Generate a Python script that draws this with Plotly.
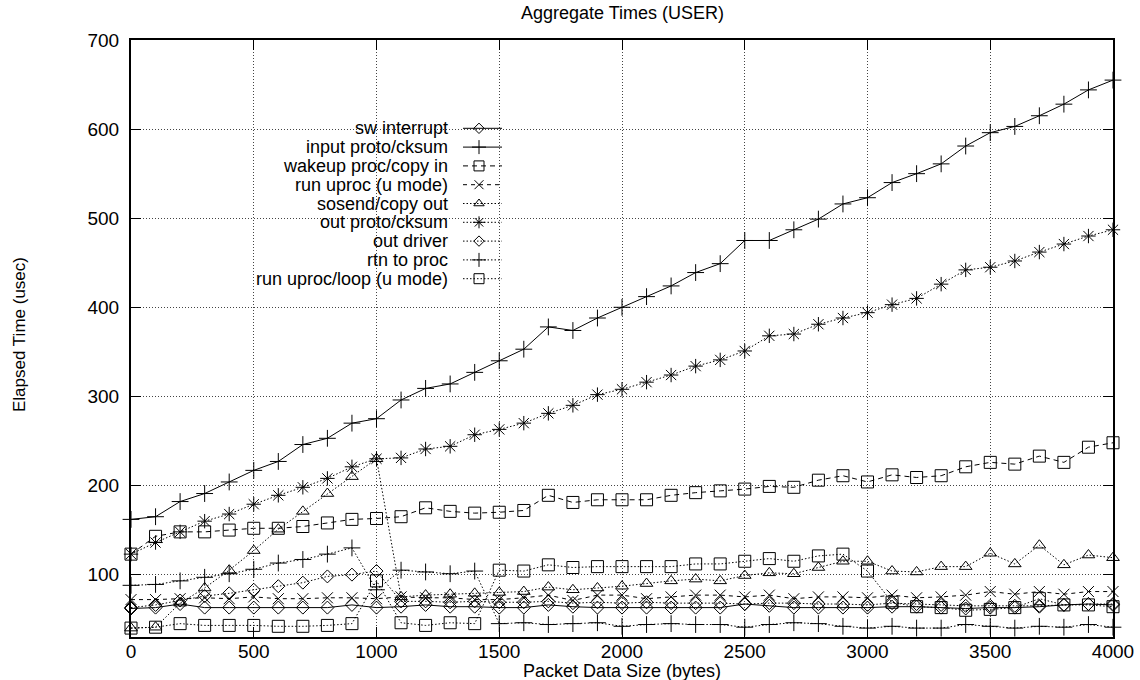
import plotly.graph_objects as go

# ---------------- data ----------------
packet_size = [0, 100, 200, 300, 400, 500, 600, 700, 800, 900, 1000,
               1100, 1200, 1300, 1400, 1500, 1600, 1700, 1800, 1900, 2000,
               2100, 2200, 2300, 2400, 2500, 2600, 2700, 2800, 2900, 3000,
               3100, 3200, 3300, 3400, 3500, 3600, 3700, 3800, 3900, 4000]

sw_interrupt = [62, 63, 67, 63, 63, 63, 63, 63, 63, 66, 63,
                64, 66, 64, 64, 63, 63, 66, 64, 63, 63,
                63, 63, 63, 63, 67, 65, 63, 63, 63, 63,
                64, 64, 63, 62, 63, 63, 64, 66, 67, 66]

input_proto = [162, 165, 182, 191, 204, 217, 227, 246, 253, 270, 275,
               296, 309, 314, 327, 340, 353, 378, 374, 388, 400,
               412, 424, 439, 449, 475, 475, 487, 499, 516, 523,
               540, 550, 561, 581, 596, 603, 615, 628, 644, 655]

wakeup_proc = [123, 143, 148, 148, 150, 152, 152, 154, 158, 162, 163,
               165, 175, 171, 169, 170, 172, 189, 181, 184, 184,
               184, 189, 192, 194, 196, 199, 198, 206, 211, 204,
               212, 209, 211, 221, 226, 224, 233, 226, 243, 248]

run_uproc = [72, 72, 73, 74, 73, 75, 73, 73, 74, 74, 73,
             75, 74, 74, 72, 72, 74, 77, 71, 77, 77,
             73, 75, 77, 77, 75, 77, 73, 75, 75, 74,
             77, 74, 75, 77, 81, 78, 81, 78, 81, 81]

sosend = [40, 41, 68, 85, 105, 127, 151, 171, 191, 210, 230,
          75, 77, 78, 79, 80, 81, 86, 83, 85, 87,
          90, 93, 95, 93, 99, 102, 101, 108, 115, 115,
          104, 103, 109, 109, 124, 112, 133, 111, 122, 119]

out_proto = [123, 136, 148, 160, 168, 179, 189, 198, 208, 221, 230,
             231, 241, 244, 257, 263, 270, 281, 290, 302, 308,
             316, 324, 334, 341, 351, 368, 370, 381, 388, 394,
             403, 410, 426, 442, 445, 452, 462, 471, 480, 487]

out_driver = [63, 66, 71, 76, 79, 83, 87, 91, 98, 100, 104,
              70, 70, 69, 70, 69, 69, 70, 68, 69, 68,
              69, 68, 68, 68, 67, 68, 68, 67, 67, 66,
              68, 67, 66, 65, 65, 65, 65, 66, 67, 67]

rtn_proc = [88, 89, 93, 97, 101, 106, 113, 117, 123, 130, 83,
            105, 103, 101, 104, 45, 46, 44, 45, 46, 42,
            44, 45, 44, 44, 41, 44, 46, 45, 42, 40,
            42, 40, 40, 44, 42, 40, 42, 41, 44, 41]

uproc_loop = [40, 41, 45, 43, 43, 43, 42, 42, 43, 45, 93,
              46, 43, 46, 45, 105, 104, 111, 108, 109, 109,
              109, 109, 112, 112, 115, 118, 115, 121, 123, 104,
              69, 64, 63, 60, 61, 63, 73, 66, 66, 64]

series_names = ["sw interrupt", "input proto/cksum", "wakeup proc/copy in",
                "run uproc (u mode)", "sosend/copy out", "out proto/cksum",
                "out driver", "rtn to proc", "run uproc/loop (u mode)"]
series_values = [sw_interrupt, input_proto, wakeup_proc, run_uproc, sosend,
                 out_proto, out_driver, rtn_proc, uproc_loop]

x_ticks = [0, 500, 1000, 1500, 2000, 2500, 3000, 3500, 4000]
y_ticks = [100, 200, 300, 400, 500, 600, 700]

# ---------------- style ----------------
styles = [
    dict(dash="solid", symbol="diamond-open", size=10),
    dict(dash="solid", symbol="cross-thin-open", size=12),
    dict(dash="5px,4px", symbol="square-open", size=12),
    dict(dash="4px,4px", symbol="x-thin-open", size=11),
    dict(dash="1.5px,2px", symbol="triangle-up-open", size=11),
    dict(dash="1.5px,2px", symbol="asterisk-open", size=12),
    dict(dash="1.5px,2px", symbol="diamond-open", size=10),
    dict(dash="1.5px,2px", symbol="cross-thin-open", size=12),
    dict(dash="1.5px,2px", symbol="square-open", size=12),
]

FONT = "Liberation Sans, Arial, Helvetica, sans-serif"
FS = 19
KEY_FS = 18
W, H = 1140, 680
L, R, T, B = 131, 27, 40, 43
PW, PH = W - L - R, H - T - B


def px2paper_x(px):
    return (px - L) / PW


def px2paper_y(py):
    return (H - B - py) / PH


fig = go.Figure()

for name, vals, st in zip(series_names, series_values, styles):
    fig.add_trace(go.Scatter(
        x=packet_size, y=vals, name=name, mode="lines+markers",
        line=dict(color="black", width=1, dash=st["dash"]),
        marker=dict(symbol=st["symbol"], size=st["size"], color="black",
                    line=dict(color="black", width=1)),
        showlegend=False, cliponaxis=False,
    ))

# ---------------- manual key (text left of sample, like gnuplot) ----------------
key_text_right = 450
key_line_x0, key_line_x1, key_mark_x = 463, 502, 479
key_y0, key_dy = 128.3, 18.8
annotations = []
for i, (name, st) in enumerate(zip(series_names, styles)):
    py = key_y0 + i * key_dy
    yy = px2paper_y(py)
    fig.add_trace(go.Scatter(
        x=[px2paper_x(key_line_x0), px2paper_x(key_line_x1)], y=[yy, yy],
        mode="lines", line=dict(color="black", width=1, dash=st["dash"]),
        xaxis="x2", yaxis="y2", showlegend=False, hoverinfo="skip"))
    fig.add_trace(go.Scatter(
        x=[px2paper_x(key_mark_x)], y=[yy], mode="markers",
        marker=dict(symbol=st["symbol"], size=st["size"] - 2, color="black",
                    line=dict(color="black", width=1)),
        xaxis="x2", yaxis="y2", showlegend=False, hoverinfo="skip"))
    annotations.append(dict(
        text=name, xref="paper", yref="paper", x=px2paper_x(key_text_right),
        y=yy, xanchor="right", yanchor="middle", showarrow=False,
        font=dict(family=FONT, size=KEY_FS, color="black")))

annotations.append(dict(
    text="Packet Data Size (bytes)", xref="paper", yref="paper",
    x=px2paper_x(622), y=px2paper_y(671), xanchor="center", yanchor="middle",
    showarrow=False, font=dict(family=FONT, size=FS - 1, color="black")))
annotations.append(dict(
    text="Elapsed Time (usec)", xref="paper", yref="paper",
    x=px2paper_x(19), y=px2paper_y(335), xanchor="center", yanchor="middle",
    textangle=-90, showarrow=False,
    font=dict(family=FONT, size=FS - 2, color="black")))
annotations.append(dict(
    text="Aggregate Times (USER)", xref="paper", yref="paper",
    x=px2paper_x(622), y=px2paper_y(13), xanchor="center", yanchor="middle",
    showarrow=False, font=dict(family=FONT, size=FS - 1, color="black")))

axis_common = dict(
    showline=True, linecolor="black", linewidth=2, mirror="ticks",
    ticks="inside", ticklen=10, tickwidth=1, tickcolor="black",
    showgrid=True, gridcolor="#444444", gridwidth=1, griddash="1px,2px",
    zeroline=False, tickfont=dict(family=FONT, size=FS, color="black"),
)

fig.update_layout(
    width=W, height=H,
    margin=dict(l=L, r=R, t=T, b=B, autoexpand=False),
    paper_bgcolor="white", plot_bgcolor="white",
    showlegend=False,
    xaxis=dict(range=[0, 4000], tickvals=x_ticks, ticktext=[str(v) for v in x_ticks],
               ticklabelstandoff=-4, **axis_common),
    yaxis=dict(range=[30, 700], tickvals=y_ticks, ticktext=[str(v) for v in y_ticks],
               ticklabelstandoff=6, **axis_common),
    xaxis2=dict(overlaying="x", range=[0, 1], visible=False, anchor="y2"),
    yaxis2=dict(overlaying="y", range=[0, 1], visible=False, anchor="x2"),
    annotations=annotations,
)

fig.write_html("out.html")
